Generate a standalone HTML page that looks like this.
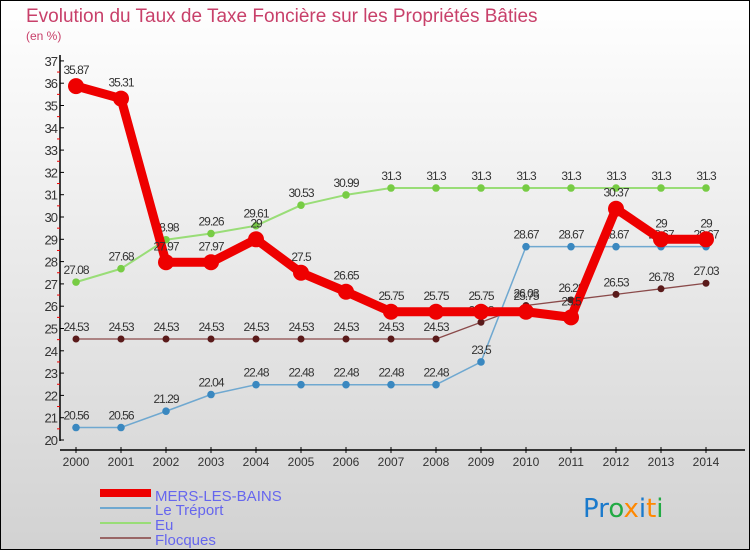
<!DOCTYPE html>
<html><head><meta charset="utf-8"><style>
body{margin:0}
svg{display:block;font-family:"Liberation Sans",sans-serif}
</style></head><body>
<svg id="c" width="750" height="550" xmlns="http://www.w3.org/2000/svg">
<defs><linearGradient id="bg" x1="0" y1="0" x2="0" y2="1"><stop offset="0" stop-color="#ffffff"/><stop offset="1" stop-color="#d2d2d2"/></linearGradient></defs>
<rect x="0.5" y="0.5" width="749" height="549" fill="url(#bg)" stroke="#000"/>
<text x="26" y="22" font-size="19" fill="#c8406a">Evolution du Taux de Taxe Foncière sur les Propriétés Bâties</text>
<text x="26" y="40" font-size="12" fill="#c8406a">(en %)</text>
<g id="axes"></g>
<g id="series"></g>
<g id="legend">
<rect x="100" y="489" width="51" height="8" fill="#ee0000"/>
<text x="155" y="501" font-size="15" fill="#6666ee">MERS-LES-BAINS</text>
<rect x="100" y="507" width="51" height="2" fill="#6fa8d0"/>
<text x="155" y="515" font-size="15" fill="#6666ee">Le Tréport</text>
<rect x="100" y="522" width="51" height="2" fill="#99dd77"/>
<text x="155" y="530" font-size="15" fill="#6666ee">Eu</text>
<rect x="100" y="537" width="51" height="2" fill="#996666"/>
<text x="155" y="545" font-size="15" fill="#6666ee">Flocques</text>
</g>
<text x="583" y="517" font-size="26" font-family="'DejaVu Sans',sans-serif"><tspan fill="#1a7acc">Pr</tspan><tspan fill="#22aa44">o</tspan><tspan fill="#ff8800">x</tspan><tspan fill="#1a7acc">i</tspan><tspan fill="#ff8800">t</tspan><tspan fill="#22aa44">i</tspan></text>
</svg>
<script>
const years=[2000,2001,2002,2003,2004,2005,2006,2007,2008,2009,2010,2011,2012,2013,2014];
const yTicks=[20,21,22,23,24,25,26,27,28,29,30,31,32,33,34,35,36,37];
const mers=[35.87,35.31,27.97,27.97,29,27.5,26.65,25.75,25.75,25.75,25.75,25.5,30.37,29,29];
const treport=[20.56,20.56,21.29,22.04,22.48,22.48,22.48,22.48,22.48,23.5,28.67,28.67,28.67,28.67,28.67];
const eu=[27.08,27.68,28.98,29.26,29.61,30.53,30.99,31.3,31.3,31.3,31.3,31.3,31.3,31.3,31.3];
const flocques=[24.53,24.53,24.53,24.53,24.53,24.53,24.53,24.53,24.53,25.28,26.03,26.28,26.53,26.78,27.03];
const NS="http://www.w3.org/2000/svg";
const xs=i=>76+i*45;
const ys=v=>440-(v-20)*22.3;
function mk(tag,attrs,parent){const e=document.createElementNS(NS,tag);for(const k in attrs)e.setAttribute(k,attrs[k]);parent.appendChild(e);return e;}
const ax=document.getElementById('axes');
let l=mk('line',{x1:60,y1:55,x2:60,y2:441,stroke:'#000','stroke-width':1.5},ax);


l=mk('line',{x1:60,y1:450,x2:745,y2:450,stroke:'#000','stroke-width':1.5},ax);


yTicks.forEach(v=>{
  const y=ys(v);
  mk('line',{x1:60,y1:y,x2:64,y2:y,stroke:'#000'},ax);
  if(v<37) mk('line',{x1:57,y1:y-11.15,x2:60,y2:y-11.15,stroke:'#e00'},ax);
  const t=mk('text',{x:57,y:y+5,'font-size':13,'text-anchor':'end',fill:'#333','letter-spacing':'-1'},ax);
  t.textContent=v;
  
  
});
years.forEach((yr,i)=>{
  const x=xs(i);
  mk('line',{x1:x,y1:447,x2:x,y2:453,stroke:'#000'},ax);
  const t=mk('text',{x:x,y:466,'font-size':12,'text-anchor':'middle',fill:'#333'},ax);
  t.textContent=yr;
  
  
});
const sg=document.getElementById('series');
function series(vals,name,color,w,r,dot){
  const g=mk('g',{},sg);
  
  
  const p=mk('polyline',{points:vals.map((v,i)=>xs(i)+','+ys(v)).join(' '),fill:'none',stroke:color,'stroke-width':w,'stroke-linejoin':'round'},g);
  
  
  vals.forEach((v,i)=>{
    const c=mk('circle',{cx:xs(i),cy:ys(v),r:r,fill:dot},g);
    
    
    const t=mk('text',{x:xs(i),y:ys(v)-8-(r>5?4:0),'font-size':12,'text-anchor':'middle',fill:'#333','letter-spacing':'-1'},g);
    t.textContent=v;
    
    
  });
}
series(flocques,'flocques','#8a4a4a',1.3,3.5,'#5a1a1a');
series(treport,'treport','#6fa8d0',1.5,3.8,'#3a88c0');
series(eu,'eu','#99dd77',2,3.8,'#77cc44');
series(mers,'mers','#ee0000',9,8,'#ee0000');
</script>
</body></html>
